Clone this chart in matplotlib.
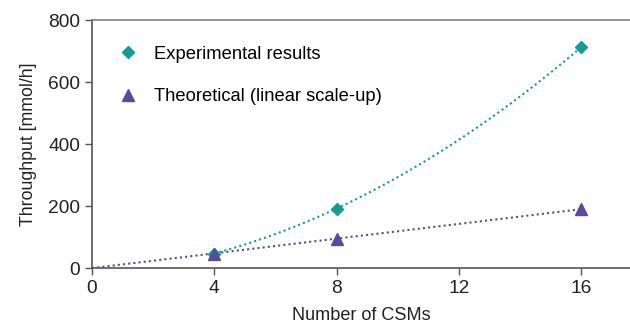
import numpy as np
import matplotlib.pyplot as plt

plt.rcParams["font.family"] = ["Liberation Sans", "DejaVu Sans"]

# data
csms = [4, 8, 16]
experimental = [47, 192, 712]
theoretical = [47, 95, 190]

teal = "#139B94"
purple = "#5B4A9B"

fig = plt.figure(figsize=(6.3, 3.23), dpi=100)
ax = fig.add_axes([0.146, 0.170, 0.854, 0.768])

# trendlines: quadratic for experimental, linear through origin for theoretical
c2 = np.polyfit(csms, experimental, 2)
xe = np.linspace(csms[0], csms[-1], 200)
ax.plot(xe, np.polyval(c2, xe), ls=(0, (1, 1.5)), lw=1.5, color=teal)
slope = np.sum(np.array(csms) * np.array(theoretical)) / np.sum(np.array(csms) ** 2)
xt = np.linspace(0, csms[-1], 100)
ax.plot(xt, slope * xt, ls=(0, (1, 1.5)), lw=1.5, color=purple)

ax.plot(csms, experimental, ls="none", marker="D", ms=6.5, color=teal,
        label="Experimental results")
ax.plot(csms, theoretical, ls="none", marker="^", ms=9, color=purple,
        label="Theoretical (linear scale-up)")

ax.set_xlim(0, 17.6)
ax.set_ylim(0, 800)
ax.set_xticks([0, 4, 8, 12, 16])
ax.set_yticks([0, 200, 400, 600, 800])
ax.tick_params(labelsize=13.8, colors="#222222", length=5, width=1)
ax.tick_params(axis="both", color="#555555")
ax.set_xlabel("Number of CSMs", fontsize=13.1, color="#222222", labelpad=7)
ax.set_ylabel("Throughput [mmol/h]", fontsize=12.8, color="#222222", labelpad=8)

for s in ["left", "bottom"]:
    ax.spines[s].set_color("#555555")
    ax.spines[s].set_linewidth(1.2)
ax.spines["top"].set_color("#808080")
ax.spines["top"].set_linewidth(1.2)
ax.spines["right"].set_visible(False)

ax.legend(loc="upper left", bbox_to_anchor=(0.0, 0.985), frameon=False,
          fontsize=13.2, labelspacing=1.4, handletextpad=0.7,
          handlelength=1.5, borderaxespad=0.8)

fig.savefig("out.png", dpi=100)
